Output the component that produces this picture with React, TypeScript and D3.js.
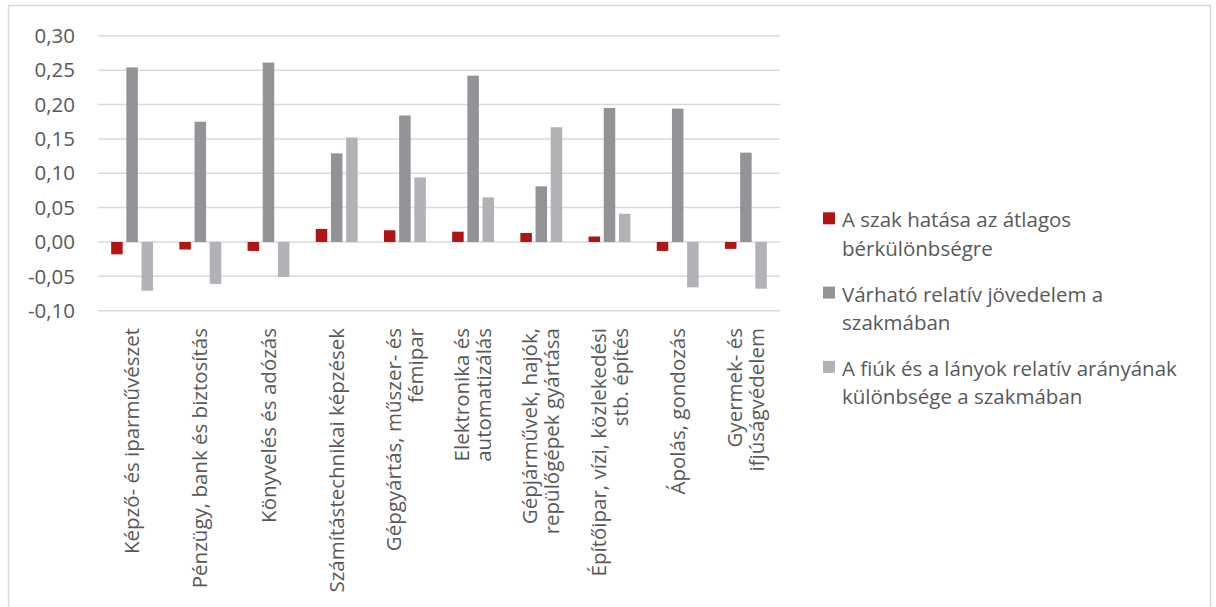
import React from 'react';
import * as d3 from 'd3';

// categories, split into the lines the chart wraps them into
const categories: string[][] = [
  ['Képző- és iparművészet'],
  ['Pénzügy, bank és biztosítás'],
  ['Könyvelés és adózás'],
  ['Számítástechnikai képzések'],
  ['Gépgyártás, műszer- és', 'fémipar'],
  ['Elektronika és', 'automatizálás'],
  ['Gépjárművek, hajók,', 'repülőgépek gyártása'],
  ['Építőipar, vízi, közlekedési', 'stb. építés'],
  ['Ápolás, gondozás'],
  ['Gyermek- és', 'ifjúságvédelem'],
];

const seriesNames: string[][] = [
  ['A szak hatása az átlagos', 'bérkülönbségre'],
  ['Várható relatív jövedelem a', 'szakmában'],
  ['A fiúk és a lányok relatív arányának', 'különbsége a szakmában'],
];

const szakHatasa = [-0.018, -0.011, -0.013, 0.019, 0.017, 0.015, 0.013, 0.008, -0.013, -0.010];
const jovedelem = [0.254, 0.175, 0.261, 0.129, 0.184, 0.242, 0.081, 0.195, 0.194, 0.130];
const fiukLanyok = [-0.071, -0.061, -0.051, 0.152, 0.094, 0.065, 0.167, 0.041, -0.066, -0.068];

const yTicks = [-0.1, -0.05, 0, 0.05, 0.1, 0.15, 0.2, 0.25, 0.3];

const colors = ['#b01414', '#939297', '#b1b2b6'];
const textColor = '#595959';
const gridColor = '#d9d9d9';
const font = '"Open Sans", sans-serif';
const fontSize = 20.5;

const huLocale = d3.formatLocale({
  decimal: ',',
  thousands: ' ',
  grouping: [3],
  currency: ['', ' Ft'],
  minus: '-',
});
const fmt = huLocale.format('.2f');

export default function App() {
  const width = 1216;
  const height = 607;
  const left = 98;
  const right = 780;

  const series = [szakHatasa, jovedelem, fiukLanyok];
  const keys = categories.map((c) => c.join(' '));

  const x0 = d3.scaleBand<string>().domain(keys).range([left, right]).paddingInner(0.386).paddingOuter(0.193);
  const x1 = d3
    .scaleBand<number>()
    .domain([0, 1, 2])
    .range([0, x0.bandwidth()])
    .paddingInner(0.243)
    .paddingOuter(0);
  const y = d3.scaleLinear().domain([-0.1, 0.3]).range([310.7, 35.8]);

  return (
    <div style={{ position: 'absolute', left: 0, top: 0 }}>
      <svg width={width} height={height} style={{ display: 'block', background: '#fff' }}>
        <rect x={8.5} y={5.5} width={1202} height={640} fill="none" stroke={gridColor} strokeWidth={1.5} />

        {/* gridlines and y labels */}
        {yTicks.map((t) => (
          <g key={t}>
            <line x1={left} x2={right} y1={y(t)} y2={y(t)} stroke={gridColor} strokeWidth={1.5} />
            <text
              x={75}
              y={y(t)}
              dy="0.35em"
              textAnchor="end"
              fontFamily={font}
              fontSize={fontSize}
              fill={textColor}
            >
              {fmt(t)}
            </text>
          </g>
        ))}

        {/* bars */}
        {series.map((vals, si) =>
          vals.map((v, i) => (
            <rect
              key={`${si}-${i}`}
              x={(x0(keys[i]) ?? 0) + (x1(si) ?? 0)}
              y={Math.min(y(v), y(0))}
              width={x1.bandwidth()}
              height={Math.abs(y(v) - y(0))}
              fill={colors[si]}
            />
          ))
        )}

        {/* category labels */}
        {categories.map((lines, i) => {
          const cx = (x0(keys[i]) ?? 0) + x0.bandwidth() / 2;
          const lh = 22;
          return (
            <g key={keys[i]} transform={`translate(${cx},328) rotate(-90)`}>
              {lines.map((ln, li) => (
                <text
                  key={li}
                  x={0}
                  y={(li - (lines.length - 1) / 2) * lh}
                  dy="0.35em"
                  textAnchor="end"
                  fontFamily={font}
                  fontSize={fontSize}
                  fill={textColor}
                >
                  {ln}
                </text>
              ))}
            </g>
          );
        })}

        {/* legend */}
        {seriesNames.map((lines, si) => {
          const base = 227.3 + si * 74.3;
          return (
            <g key={si}>
              <rect x={823} y={base - 15} width={12} height={12} fill={colors[si]} />
              {lines.map((ln, li) => (
                <text
                  key={li}
                  x={842}
                  y={base + li * 28.4}
                  fontFamily={font}
                  fontSize={fontSize}
                  fill={textColor}
                >
                  {ln}
                </text>
              ))}
            </g>
          );
        })}
      </svg>
    </div>
  );
}
